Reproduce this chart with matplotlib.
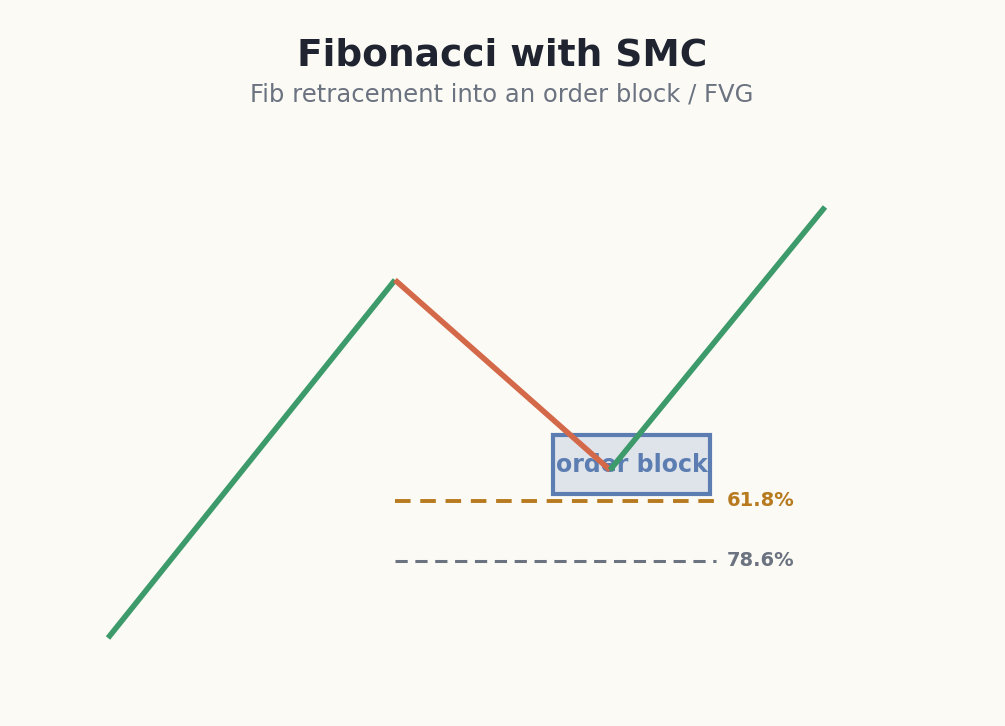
import matplotlib
matplotlib.use('Agg')
import matplotlib.pyplot as plt
from matplotlib.patches import Rectangle

# swing path (pixel-like chart units, y grows downward)
swing_x = [108, 395, 610, 825]
swing_y = [638, 280, 470, 207]
leg_colors = ['#3d9a6a', '#d4694a', '#3d9a6a']

fib_labels = ['61.8%', '78.6%']
fib_y = [501, 561]
fib_x0, fib_x1 = 395, 716
fib_colors = ['#b87a1e', '#6b7280']

ob_box = (553, 435, 157, 59)  # x, y, w, h

bg = '#fbfaf5'
fig = plt.figure(figsize=(10.05, 7.26), dpi=100, facecolor=bg)
ax = fig.add_axes([0, 0, 1, 1])
ax.set_facecolor(bg)
ax.set_xlim(0, 1005)
ax.set_ylim(726, 0)
ax.axis('off')

x, y, w, h = ob_box
ax.add_patch(Rectangle((x, y), w, h, facecolor='#dfe3ea', edgecolor='#5b7db1', lw=3, zorder=2))
ax.text(x + w / 2, y + h / 2, 'order block', ha='center', va='center',
        fontsize=17, fontweight='bold', color='#5b7db1', zorder=3)

for i, c in enumerate(leg_colors):
    ax.plot(swing_x[i:i + 2], swing_y[i:i + 2], color=c, lw=4, solid_capstyle='butt', zorder=4)

ax.plot([fib_x0, fib_x1], [fib_y[0]] * 2, color=fib_colors[0], lw=2.8, ls=(0, (4, 2.5)), zorder=1)
ax.plot([fib_x0, fib_x1], [fib_y[1]] * 2, color=fib_colors[1], lw=2.2, ls=(0, (4, 2.5)), zorder=1)
for lab, yy, c in zip(fib_labels, fib_y, fib_colors):
    ax.text(727, yy, lab, ha='left', va='center', fontsize=14, fontweight='bold', color=c)

ax.text(502, 55, 'Fibonacci with SMC', ha='center', va='center',
        fontsize=27, fontweight='bold', color='#1f2430')
ax.text(502, 94, 'Fib retracement into an order block / FVG', ha='center', va='center',
        fontsize=17.5, color='#6b7280')

fig.savefig('out.png', dpi=100, facecolor=bg)
